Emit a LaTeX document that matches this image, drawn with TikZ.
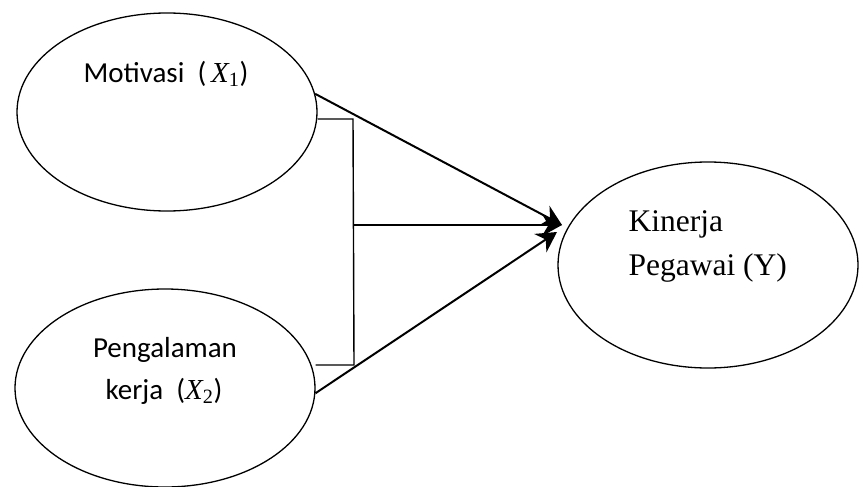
\documentclass[tikz,border=0pt]{standalone}
\usepackage{amsmath}
\usepackage{fontspec}
\setmainfont{Liberation Serif}
\newfontfamily\calibri{Carlito}
\usetikzlibrary{shapes.geometric,arrows.meta}

\newcommand{\varx}[1]{{\rmfamily\itshape X}$_{\textrm{#1}}$}

\begin{document}
\begin{tikzpicture}[x=1pt,y=-1pt,
    var/.style={draw,ellipse,line width=1.3pt,inner sep=0pt,minimum width=300pt,minimum height=198pt},
    sanslbl/.style={anchor=base,font=\calibri\fontsize{29}{42}\selectfont},
    seriflbl/.style={anchor=base west,font=\fontsize{31.5}{44}\selectfont},
    path/.style={line width=2pt,-{Stealth[length=20pt,width=22pt]}},
    link/.style={line width=1.4pt}]
    \useasboundingbox (0,0) rectangle (859,487);

    % the three variables
    \node[var] (mot) at (167,112) {};
    \node[var] (pen) at (165,388) {};
    \node[var,minimum height=206pt] (kin) at (708,265) {};

    \node[sanslbl] (motlbl) at (166,82) {Motivasi\ \ (\,\varx{1})};
    \node[sanslbl] (penlbl) at (165,357) {Pengalaman};
    \node[sanslbl] (penlblb) at (164,399) {kerja\ \ (\varx{2})};
    \node[seriflbl] (kinlbl) at (625,231) {Kinerja};
    \node[seriflbl] (kinlblb) at (625,275) {Pegawai (Y)};

    % paths
    \coordinate (tip) at (562,225);
    \coordinate (tipb) at (557,232);
    \coordinate (jtop) at (353,119);
    \coordinate (jmid) at (354,225);
    \coordinate (jbot) at (354,365);
    \draw[path] (mot.7) -- (tip);
    \draw[path] (pen.-2) -- (tipb);
    \draw[path] (jmid) -- (tip);
    \draw[link] (jtop -| mot.east) -- (jtop) -- (jbot) -- (jbot -| pen.east);
\end{tikzpicture}
\end{document}
